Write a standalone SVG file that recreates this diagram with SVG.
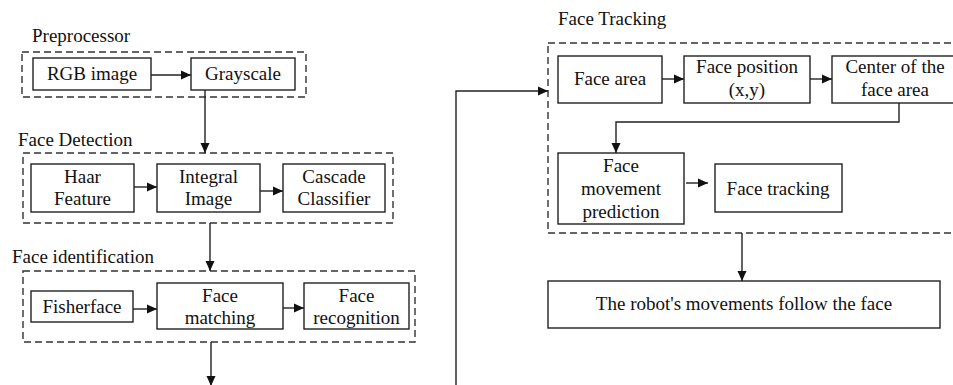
<svg xmlns="http://www.w3.org/2000/svg" width="953" height="385" viewBox="0 0 953 385">
<style>
text{font-family:'Liberation Serif','Times New Roman','DejaVu Serif',serif;font-size:19px;fill:#111}
.c{text-anchor:middle}
.box{fill:#fff;stroke:#222;stroke-width:1.4}
.grp{fill:none;stroke:#333;stroke-width:1.4;stroke-dasharray:7,4}
.ln{fill:none;stroke:#222;stroke-width:1.4}
</style>
<defs>
<marker id="ah" viewBox="0 0 10 10" refX="10" refY="5" markerWidth="10" markerHeight="10" markerUnits="userSpaceOnUse" orient="auto">
<path d="M0,0.5 L10,5 L0,9.5 Z" fill="#111"/>
</marker>
</defs>
<rect width="953" height="385" fill="#fff"/>

<g id="preprocessor">
<text x="32" y="42">Preprocessor</text>
<rect class="grp" x="22" y="52" width="284" height="45"/>
</g>
<g id="rgb"><rect class="box" x="33" y="58" width="118" height="32"/><text class="c" x="92" y="80">RGB image</text></g>
<g id="gray"><rect class="box" x="191" y="58" width="104" height="32"/><text class="c" x="243" y="80">Grayscale</text></g>

<g id="detection">
<text x="18" y="146">Face Detection</text>
<rect class="grp" x="23" y="153" width="370" height="70"/>
</g>
<g id="haar"><rect class="box" x="31" y="164" width="103" height="48"/><text class="c" x="82.5" y="183">Haar</text><text class="c" x="82.5" y="205">Feature</text></g>
<g id="integral"><rect class="box" x="157" y="164" width="103" height="48"/><text class="c" x="208.5" y="183">Integral</text><text class="c" x="208.5" y="205">Image</text></g>
<g id="cascade"><rect class="box" x="283" y="164" width="102" height="48"/><text class="c" x="334" y="183">Cascade</text><text class="c" x="334" y="205">Classifier</text></g>

<g id="identification">
<text x="12" y="263">Face identification</text>
<rect class="grp" x="23" y="271" width="392" height="71"/>
</g>
<g id="fisher"><rect class="box" x="31" y="291" width="102" height="31"/><text class="c" x="82" y="313">Fisherface</text></g>
<g id="matching"><rect class="box" x="157" y="283" width="126" height="46"/><text class="c" x="220" y="302">Face</text><text class="c" x="220" y="324">matching</text></g>
<g id="recognition"><rect class="box" x="304" y="283" width="105" height="46"/><text class="c" x="356.5" y="302">Face</text><text class="c" x="356.5" y="324">recognition</text></g>

<g id="tracking">
<text x="558" y="25">Face Tracking</text>
<rect class="grp" x="548" y="43" width="420" height="190"/>
</g>
<g id="facearea"><rect class="box" x="558" y="56" width="104" height="47"/><text class="c" x="610" y="85">Face area</text></g>
<g id="facepos"><rect class="box" x="684" y="56" width="126" height="47"/><text class="c" x="747" y="73">Face position</text><text class="c" x="747" y="96">(x,y)</text></g>
<g id="center"><rect class="box" x="832" y="56" width="130" height="47"/><text class="c" x="895" y="73">Center of the</text><text class="c" x="895" y="96">face area</text></g>
<g id="movement"><rect class="box" x="558" y="153" width="126" height="71"/><text class="c" x="621" y="172">Face</text><text class="c" x="621" y="195">movement</text><text class="c" x="621" y="218">prediction</text></g>
<g id="facetracking"><rect class="box" x="715" y="164" width="127" height="48"/><text class="c" x="778" y="195">Face tracking</text></g>
<g id="robot"><rect class="box" x="548" y="281" width="392" height="47"/><text class="c" x="744" y="310">The robot's movements follow the face</text></g>

<g id="connectors">
<line class="ln" x1="151" y1="75" x2="191" y2="75" marker-end="url(#ah)"/>
<line class="ln" x1="205" y1="90" x2="205" y2="153" marker-end="url(#ah)"/>
<line class="ln" x1="134" y1="187" x2="157" y2="187" marker-end="url(#ah)"/>
<line class="ln" x1="260" y1="191" x2="283" y2="191" marker-end="url(#ah)"/>
<line class="ln" x1="210" y1="223" x2="210" y2="271" marker-end="url(#ah)"/>
<line class="ln" x1="133" y1="309" x2="157" y2="309" marker-end="url(#ah)"/>
<line class="ln" x1="283" y1="308" x2="304" y2="308" marker-end="url(#ah)"/>
<line class="ln" x1="211" y1="342" x2="211" y2="386" marker-end="url(#ah)"/>
<polyline class="ln" points="456,385 456,91 548,91" marker-end="url(#ah)"/>
<line class="ln" x1="662" y1="79" x2="684" y2="79" marker-end="url(#ah)"/>
<line class="ln" x1="810" y1="79" x2="832" y2="79" marker-end="url(#ah)"/>
<polyline class="ln" points="899,103 899,122 616,122 616,153" marker-end="url(#ah)"/>
<line class="ln" x1="686" y1="183" x2="708" y2="183" marker-end="url(#ah)"/>
<line class="ln" x1="742" y1="233" x2="742" y2="281" marker-end="url(#ah)"/>
</g>
</svg>
